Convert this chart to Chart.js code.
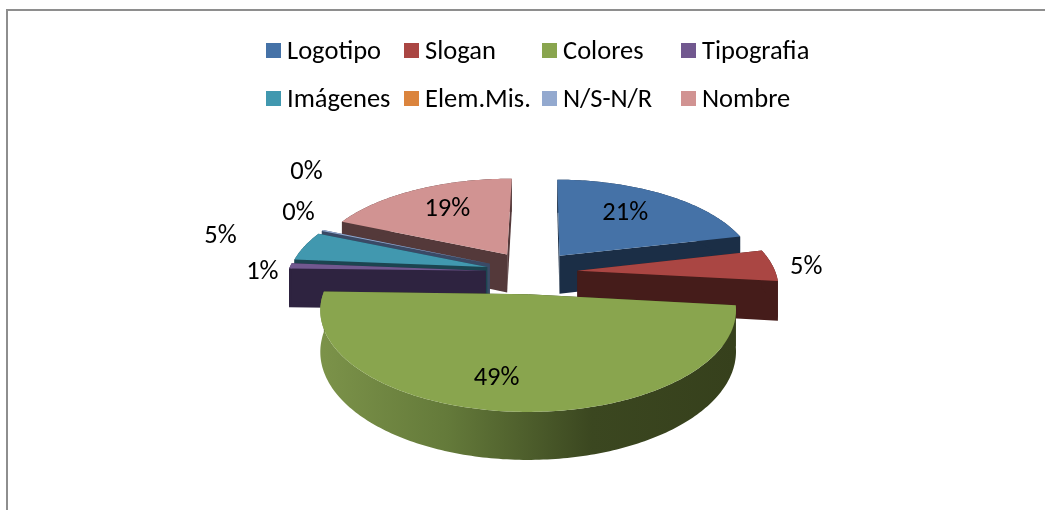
<!DOCTYPE html>
<html lang="es">
<head>
<meta charset="utf-8">
<title>Pie 3D</title>
<script src="https://cdn.jsdelivr.net/npm/chart.js@4"></script>
<style>
html, body { margin: 0; padding: 0; background: #fff; }
#wrap { position: relative; width: 1045px; height: 510px; overflow: hidden; }
#frame { position: absolute; left: 6px; top: 9px; width: 1060px; height: 520px; border: 2px solid #8e8e8e; box-sizing: border-box; }
#chart { position: absolute; left: 0; top: 0; }
.leg { position: absolute; font: 26.5px Carlito, Lato, sans-serif; color: #000; line-height: 28px; white-space: nowrap; }
.leg i { position: absolute; left: -21px; top: 7px; width: 15px; height: 15px; }
</style>
</head>
<body>
<div id="wrap">
  <div id="frame"></div>
  <canvas id="chart" width="1045" height="510"></canvas>
  <div id="legend"></div>
</div>
<script>
/* Values; Elem.Mis. is empty and N/S-N/R a thin sliver */
const categories = ['Logotipo', 'Slogan', 'Colores', 'Tipografia', 'Imágenes', 'Elem.Mis.', 'N/S-N/R', 'Nombre'];
const values = [21.2, 5.4, 48.6, 0.9, 5.0, 0, 0.2, 18.6];
const colors = ['#4572a7', '#aa4643', '#89a54e', '#71588f', '#4198af', '#db843d', '#93a9cf', '#d19392'];
const wallColors = ['#1b2e46', '#451c1a', '#36401c', '#2e2340', '#1c4450', '#5c3718', '#3a4a66', '#54393a'];

// legend grid, label placement (reach = share of radius, then pixel nudge)
const legendCols = [287, 425, 563, 702];
const legendRows = [36, 84];
const labelReach = [0.6, 1.16, 0.6, 1.16, 1.16, 1.16, 1.16, 0.6];
const labelNudge = [[0, -4], [3, 3], [-22, 19], [3, 7], [-56, -7], [2, -13], [9, -53], [-3, -4]];

// fake 3D view of the pie plane
const VIEW_DIST = 1300, TILT = 0.466, DEPTH = 39;

function project(arc, a, r, h) {
    const o = arc.options.offset, mid = (arc.startAngle + arc.endAngle) / 2;
    const px = Math.cos(a) * r + Math.cos(mid) * o;
    const py = Math.sin(a) * r + Math.sin(mid) * o;
    const s = VIEW_DIST / (VIEW_DIST - py);
    return { x: arc.x + px * s, y: arc.y + py * TILT * s + h * s };
}

function tracePoly(ctx, pts) {
    ctx.beginPath();
    pts.forEach((p, i) => i ? ctx.lineTo(p.x, p.y) : ctx.moveTo(p.x, p.y));
    ctx.closePath();
}

function arcPoints(arc, h) {
    const n = Math.max(2, Math.ceil((arc.endAngle - arc.startAngle) * 60));
    const pts = [];
    for (let i = 0; i <= n; i++) {
        pts.push(project(arc, arc.startAngle + (arc.endAngle - arc.startAngle) * i / n, arc.outerRadius, h));
    }
    return pts;
}

function drawSlice(ctx, arc, idx) {
    if (arc.endAngle <= arc.startAngle) return; // empty slice
    const top = arcPoints(arc, 0), bottom = arcPoints(arc, DEPTH);
    const apexT = project(arc, 0, 0, 0), apexB = project(arc, 0, 0, DEPTH);
    ctx.fillStyle = wallColors[idx];
    tracePoly(ctx, [apexT, top[0], bottom[0], apexB]); ctx.fill();
    tracePoly(ctx, [apexT, top[top.length - 1], bottom[bottom.length - 1], apexB]); ctx.fill();
    if (idx === 2) {
        const g = ctx.createLinearGradient(top[top.length - 1].x, 0, top[0].x, 0);
        g.addColorStop(0, '#7b9249');
        g.addColorStop(0.3, '#647a3a');
        g.addColorStop(0.65, '#3b4720');
        g.addColorStop(1, '#36401c');
        ctx.fillStyle = g;
    }
    tracePoly(ctx, top.concat(bottom.slice().reverse())); ctx.fill();
    ctx.fillStyle = colors[idx];
    tracePoly(ctx, [apexT].concat(top)); ctx.fill();
}

const pie3d = {
    id: 'pie3d',
    beforeDatasetDraw(chart, args) {
        const ctx = chart.ctx, arcs = args.meta.data;
        const midSin = a => Math.sin((a.startAngle + a.endAngle) / 2);
        const order = arcs.map((a, i) => i).sort((i, j) => midSin(arcs[i]) - midSin(arcs[j]));
        ctx.save();
        order.forEach(i => drawSlice(ctx, arcs[i], i));
        ctx.fillStyle = '#000';
        ctx.font = '26.5px Carlito, Lato, sans-serif';
        ctx.textAlign = 'center';
        ctx.textBaseline = 'middle';
        const total = values.reduce((a, b) => a + b, 0);
        arcs.forEach((a, i) => {
            const p = project(a, (a.startAngle + a.endAngle) / 2, a.outerRadius * labelReach[i], 0);
            ctx.fillText(Math.round(values[i] / total * 100) + '%', p.x + labelNudge[i][0], p.y + labelNudge[i][1]);
        });
        ctx.restore();
        return false;
    }
};

new Chart(document.getElementById('chart'), {
    type: 'pie',
    data: { labels: categories, datasets: [{ data: values, backgroundColor: colors, offset: 46, borderWidth: 0 }] },
    options: {
        responsive: false,
        animation: false,
        rotation: 0.5,
        radius: 198,
        layout: { padding: { left: 18, top: 34 } },
        plugins: { legend: { display: false }, tooltip: { enabled: false } }
    },
    plugins: [pie3d]
});

document.getElementById('legend').innerHTML = categories.map((c, i) => {
    const col = legendCols[i % 4], row = legendRows[Math.floor(i / 4)];
    return `<div class="leg" style="left:${col}px;top:${row}px"><i style="background:${colors[i]}"></i>${c}</div>`;
}).join('');
</script>
</body>
</html>
